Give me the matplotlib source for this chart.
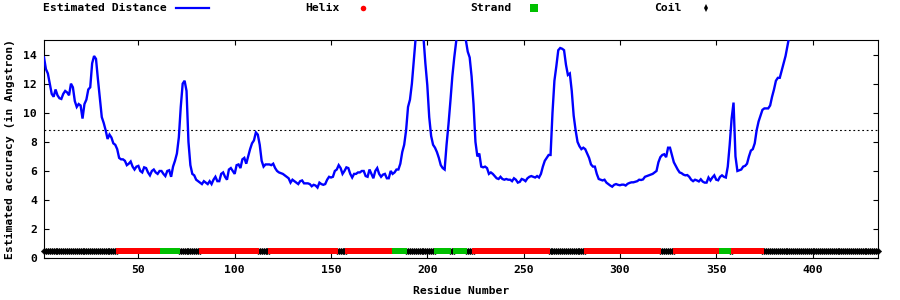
import matplotlib
matplotlib.use("Agg")
import matplotlib.pyplot as plt
from matplotlib.lines import Line2D

# ---------------- data ----------------
first_residue = 1
seq_end = 434
distance = [
    13.8, 13.0, 12.7, 12.0, 11.3, 11.1, 11.6, 11.2, 11.0, 10.95,
    11.3, 11.5, 11.4, 11.2, 12.0, 11.75, 10.8, 10.4, 10.6, 10.5,
    9.6, 10.6, 10.9, 11.6, 11.75, 13.4, 13.9, 13.7, 12.3, 11.0,
    9.7, 9.3, 8.8, 8.2, 8.5, 8.3, 7.9, 7.8, 7.5, 6.9,
    6.8, 6.8, 6.7, 6.4, 6.5, 6.65, 6.3, 6.1, 6.3, 6.35,
    6.0, 5.9, 6.25, 6.2, 5.9, 5.7, 6.0, 6.1, 5.9, 5.8,
    6.0, 6.0, 5.8, 5.65, 6.0, 6.05, 5.6, 6.3, 6.7, 7.2,
    8.3, 10.4, 12.0, 12.2, 11.5, 8.0, 6.4, 5.8, 5.7, 5.4,
    5.3, 5.2, 5.1, 5.3, 5.2, 5.1, 5.3, 5.1, 5.4, 5.6,
    5.3, 5.3, 5.8, 5.9, 5.6, 5.4, 6.1, 6.2, 6.0, 5.8,
    6.4, 6.45, 6.2, 6.8, 6.9, 6.5, 7.0, 7.5, 7.9, 8.1,
    8.65, 8.5, 7.8, 6.7, 6.3, 6.45, 6.45, 6.45, 6.4, 6.5,
    6.2, 6.0, 5.9, 5.85, 5.8, 5.7, 5.6, 5.5, 5.2, 5.4,
    5.3, 5.2, 5.1, 5.3, 5.35, 5.15, 5.15, 5.15, 5.1, 4.95,
    5.05, 5.0, 4.86, 5.2, 5.1, 5.05, 5.1, 5.4, 5.6, 5.55,
    5.6, 6.0, 6.1, 6.4, 6.2, 5.8, 6.0, 6.25, 6.2, 5.8,
    5.55, 5.8, 5.8, 5.9, 5.9, 6.0, 6.0, 5.65, 5.6, 6.1,
    5.8, 5.5, 6.0, 6.2, 5.8, 5.6, 5.75, 5.8, 5.5, 5.5,
    6.0, 5.8, 5.9, 6.1, 6.1, 6.5, 7.3, 7.8, 8.8, 10.4,
    10.9, 12.0, 13.6, 15.2, 16.5, 17.0, 16.5, 15.2, 13.4, 11.9,
    9.7, 8.4, 7.8, 7.6, 7.3, 6.9, 6.4, 6.2, 6.1, 7.8,
    9.2, 10.8, 12.5, 13.8, 14.9, 16.0, 17.0, 17.0, 16.0, 15.0,
    14.2, 13.8, 12.5, 10.6, 8.0, 7.0, 7.2, 6.3, 6.25, 6.3,
    6.2, 5.8, 5.9, 5.8, 5.65, 5.5, 5.45, 5.6, 5.45, 5.4,
    5.45, 5.4, 5.4, 5.3, 5.5, 5.4, 5.2, 5.25, 5.45, 5.4,
    5.3, 5.5, 5.6, 5.65, 5.6, 5.55, 5.65, 5.55, 5.8, 6.3,
    6.7, 6.9, 7.1, 7.1, 10.0, 12.2, 13.2, 14.3, 14.45, 14.4,
    14.3, 13.3, 12.6, 12.7, 11.5, 9.8, 8.8, 8.0, 7.7, 7.5,
    7.6, 7.5, 7.2, 6.9, 6.45, 6.3, 6.3, 5.8, 5.45, 5.4,
    5.35, 5.4, 5.2, 5.1, 5.0, 4.92, 5.05, 5.1, 5.05, 5.02,
    5.06, 5.06, 5.0, 5.12, 5.18, 5.22, 5.22, 5.26, 5.3, 5.4,
    5.38, 5.42, 5.6, 5.65, 5.7, 5.75, 5.8, 5.9, 6.0, 6.6,
    6.95, 7.1, 7.15, 6.95, 7.6, 7.6, 7.1, 6.6, 6.35, 6.1,
    5.9, 5.85, 5.75, 5.7, 5.72, 5.6, 5.4, 5.3, 5.4, 5.35,
    5.28, 5.43, 5.27, 5.2, 5.2, 5.55, 5.35, 5.55, 5.7, 5.4,
    5.36, 5.6, 5.7, 5.6, 5.55, 6.3, 7.8, 9.6, 10.7, 7.0,
    6.0, 6.05, 6.1, 6.3, 6.35, 6.5, 7.0, 7.4, 7.5, 7.9,
    8.8, 9.4, 9.8, 10.2, 10.3, 10.3, 10.3, 10.5, 11.1, 11.6,
    12.2, 12.4, 12.4, 12.9, 13.4, 13.9, 14.6, 15.3,
]
threshold = 8.85

# secondary structure segments: (type, first residue, last residue)
ss_segments = [
    ("C", 1, 39), ("H", 40, 62), ("E", 63, 70), ("C", 71, 82),
    ("H", 83, 111), ("C", 112, 118), ("H", 119, 152), ("C", 153, 158),
    ("H", 159, 182), ("E", 183, 188), ("C", 189, 204), ("E", 205, 211),
    ("C", 212, 214), ("E", 215, 219), ("C", 220, 224), ("H", 225, 262),
    ("C", 263, 282), ("H", 283, 320), ("C", 321, 328), ("H", 329, 352),
    ("E", 353, 356), ("C", 357, 358), ("H", 359, 373), ("C", 374, 434),
]
ss_level = 0.5

x_ticks = [50, 100, 150, 200, 250, 300, 350, 400]
y_ticks = [0, 2, 4, 6, 8, 10, 12, 14]

# ---------------- style ----------------
FONT = dict(family="DejaVu Sans Mono", weight="bold", size=8.2)
BLUE = "#0000ff"
RED = "#ff0000"
GREEN = "#00c000"

fig = plt.figure(figsize=(9, 3), dpi=100)
W, H = 900, 300
ax = fig.add_axes([44 / W, 1 - 258.3 / H, (878 - 44) / W, (258.3 - 40) / H])

residues = list(range(first_residue, first_residue + len(distance)))
ax.plot(residues, distance, color=BLUE, lw=1.7, solid_joinstyle="miter", zorder=3)
ax.axhline(threshold, color="black", lw=0.8, ls=(0, (1.6, 2.4)), zorder=2)

# secondary structure band
ss_x = {"H": [], "E": [], "C": []}
for kind, a, b in ss_segments:
    ss_x[kind].extend(range(a, b + 1))

ax.plot(ss_x["C"], [ss_level] * len(ss_x["C"]), ls="none", marker="D",
        ms=3.3, mfc="black", mec="black", mew=0.3, clip_on=False, zorder=4)
ax.plot(ss_x["H"], [ss_level] * len(ss_x["H"]), ls="none", marker="s",
        ms=4.3, mfc=RED, mec=RED, mew=0, clip_on=False, zorder=5)
ax.plot(ss_x["E"], [ss_level] * len(ss_x["E"]), ls="none", marker="s",
        ms=5.0, mfc=GREEN, mec=GREEN, mew=0, clip_on=False, zorder=6)

ax.set_xlim(first_residue, seq_end)
ax.set_ylim(0, 15)
ax.set_xticks(x_ticks)
ax.set_yticks(y_ticks)
ax.tick_params(direction="in", length=3.5, width=0.8, top=True, right=True,
               labelsize=FONT["size"], pad=5)
for lab in ax.get_xticklabels() + ax.get_yticklabels():
    lab.set_family(FONT["family"])
    lab.set_weight(FONT["weight"])
for s in ax.spines.values():
    s.set_linewidth(0.8)

ax.set_xlabel("Residue Number", fontdict=FONT, labelpad=8)
ax.set_ylabel("Estimated accuracy (in Angstron)", fontdict=FONT, labelpad=6)

# legend row across the top
def fx(px):
    return px / W

def fy(py):
    return 1 - py / H

ly = 8.3
fig.text(fx(43), fy(ly), "Estimated Distance", ha="left", va="center", **FONT)
fig.add_artist(Line2D([fx(176), fx(209)], [fy(7.5), fy(7.5)], color=BLUE, lw=1.6))
fig.text(fx(305.5), fy(ly), "Helix", ha="left", va="center", **FONT)
fig.add_artist(Line2D([fx(363)], [fy(ly)], ls="none", marker="o", ms=4.0,
                      mfc=RED, mec=RED, mew=0))
fig.text(fx(470), fy(ly), "Strand", ha="left", va="center", **FONT)
fig.add_artist(Line2D([fx(534)], [fy(ly)], ls="none", marker="s", ms=5.2,
                      mfc=GREEN, mec=GREEN, mew=0))
fig.text(fx(654.5), fy(ly), "Coil", ha="left", va="center", **FONT)
fig.add_artist(Line2D([fx(705.5)], [fy(ly)], ls="none", marker="d", ms=3.6,
                      mfc="black", mec="black", mew=0))

fig.savefig("out.png", dpi=100)
